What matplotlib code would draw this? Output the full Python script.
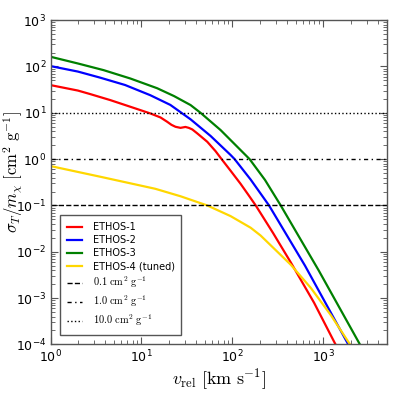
import matplotlib
matplotlib.use("Agg")
import matplotlib.pyplot as plt

plt.rcParams['mathtext.fontset'] = 'cm'
plt.rcParams['font.family'] = ['DejaVu Sans']

# ETHOS-1
v1 = [1, 2, 2.74, 4.54, 7.55, 12.5, 16.2, 19.2, 21.4, 23.7, 26.9, 30.5, 33.2, 36.3, 41.1,
      53, 65.5, 76.2, 95.7, 123, 150, 181, 282, 440, 794, 1346, 1778]
s1 = [39.6, 30.2, 25.3, 18.8, 13.5, 9.7, 7.94, 6.4, 5.5, 4.99, 4.73, 4.95, 4.73, 4.37, 3.6,
      2.37, 1.48, 1.0, 0.562, 0.295, 0.17, 0.1, 0.0251, 0.00589, 7.94e-4, 1.06e-4, 3.98e-5]
# ETHOS-2
v2 = [1, 2, 3.5, 6.61, 12.5, 20.8, 34.7, 57.7, 95.7, 106, 159, 253.5, 631, 1858, 2512]
s2 = [101.9, 77.6, 57.5, 39.8, 24.0, 14.8, 7.24, 3.16, 1.23, 1.0, 0.363, 0.1, 5.01e-3, 1.06e-4, 3.5e-5]
# ETHOS-3
v3 = [1, 2, 3.83, 7.55, 14.9, 22.9, 34.7, 44.7, 74.3, 155, 229, 341, 891, 2495, 3162]
s3 = [162, 116, 83.4, 55, 33.9, 22.9, 14.7, 10, 4.24, 1.0, 0.355, 0.1, 3.98e-3, 1.06e-4, 4.5e-5]
# ETHOS-4 (tuned)
v4 = [1, 3.52, 14.2, 26.9, 53, 95.7, 159, 205, 440, 731, 1216, 1936, 2512]
s4 = [0.708, 0.417, 0.229, 0.158, 0.1, 0.0589, 0.0331, 0.0224, 5.25e-3, 1.66e-3, 4.27e-4, 1.06e-4, 4.5e-5]

labels = ['ETHOS-1', 'ETHOS-2', 'ETHOS-3', 'ETHOS-4 (tuned)']
colors = ['red', 'blue', 'green', 'gold']

ref_vals = [0.1, 1.0, 10.0]
ref_labels = [r'$0.1\ \mathrm{cm^2\ g^{-1}}$', r'$1.0\ \mathrm{cm^2\ g^{-1}}$', r'$10.0\ \mathrm{cm^2\ g^{-1}}$']
ref_styles = ['--', (0, (3, 2.5, 1, 2.5)), ':']

fig = plt.figure(figsize=(3.95, 3.95), dpi=100)
ax = fig.add_axes([0.128, 0.128, 0.851, 0.821])

for v, s, lab, c in zip([v1, v2, v3, v4], [s1, s2, s3, s4], labels, colors):
    ax.plot(v, s, color=c, lw=1.6, label=lab)

for val, lab, ls in zip(ref_vals, ref_labels, ref_styles):
    ax.axhline(val, color='black', lw=1.0, ls=ls, label=lab)

ax.set_xscale('log')
ax.set_yscale('log')
ax.set_xlim(1, 5000)
ax.set_ylim(1e-4, 1e3)

ax.tick_params(which='both', direction='in', top=True, right=True, labelsize=9,
               color='#555555')
ax.tick_params(which='major', length=5, width=0.8, pad=3)
ax.tick_params(which='minor', length=2.8, width=0.6)
for sp in ax.spines.values():
    sp.set_linewidth(1.0)
    sp.set_color('#555555')

ax.set_xlabel(r'$v_{\rm rel}\ [\mathrm{km\ s^{-1}}]$', fontsize=13, labelpad=1)
ax.set_ylabel(r'$\sigma_T/m_\chi\ [\mathrm{cm^2\ g^{-1}}]$', fontsize=12)
ax.yaxis.set_label_coords(-0.076, 0.53)

leg = ax.legend(loc='lower left', bbox_to_anchor=(0.028, 0.029), borderaxespad=0,
                fontsize=7, fancybox=False, edgecolor='#555555', framealpha=1.0,
                handlelength=1.55, handletextpad=1.1, labelspacing=0.33, borderpad=0.7)
leg.get_frame().set_linewidth(1.0)
for t in leg.get_texts()[4:]:
    t.set_fontsize(7.5)

fig.savefig('out.png', dpi=100)
